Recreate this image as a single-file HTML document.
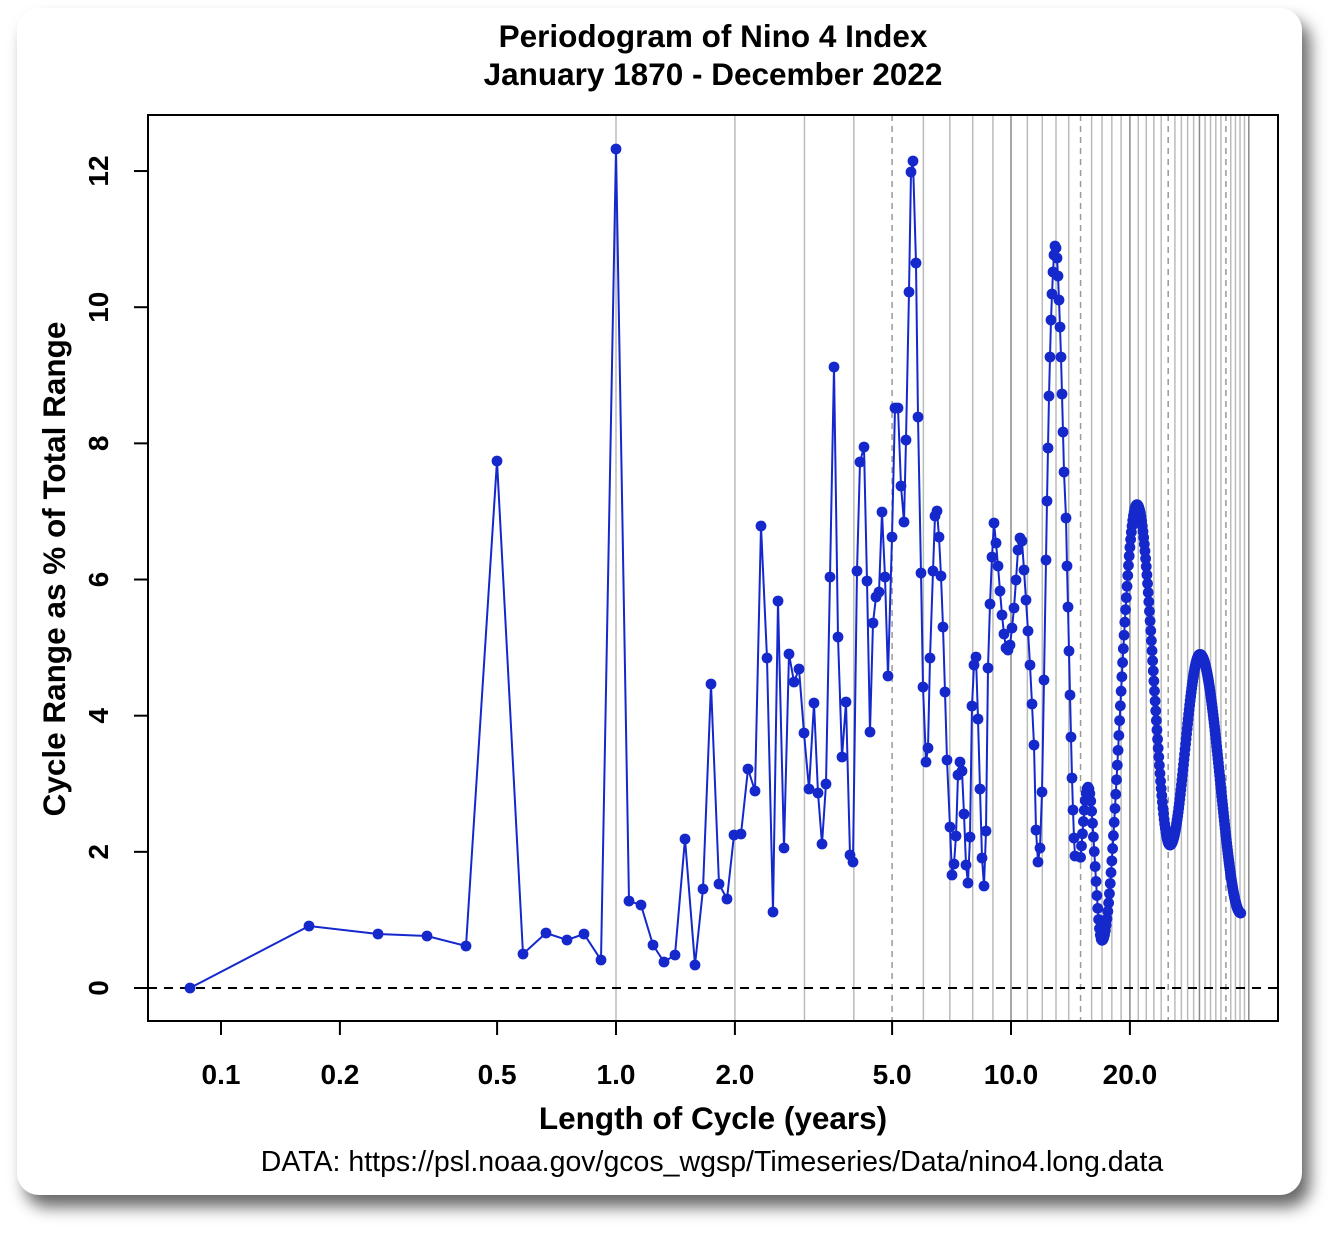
<!DOCTYPE html>
<html><head><meta charset="utf-8"><style>
body{margin:0;background:#fff;width:1339px;height:1242px;overflow:hidden}
.card{position:absolute;left:17px;top:8px;width:1285px;height:1187px;background:#fff;border-radius:22px;box-shadow:8px 12px 16px rgba(0,0,0,0.6)}
svg{position:absolute;left:0;top:0}
text{font-family:"Liberation Sans",Arial,sans-serif}
</style></head><body>
<div class="card"></div>
<svg width="1339" height="1242" id="s">
<g id="grid"></g>
<line x1="148" y1="988" x2="1278" y2="988" stroke="#000" stroke-width="2" stroke-dasharray="9,7"/>
<g id="data"></g>
<rect x="148" y="115" width="1130" height="906" fill="none" stroke="#000" stroke-width="2"/>
<g font-weight="bold" font-size="31.5" text-anchor="middle">
<text x="713" y="47">Periodogram of Nino 4 Index</text>
<text x="713" y="85">January 1870 - December 2022</text>
<text x="713" y="1129">Length of Cycle (years)</text>
<text transform="translate(65,569) rotate(-90)">Cycle Range as % of Total Range</text>
</g>
<text x="712" y="1171" font-size="28.5" text-anchor="middle">DATA: https://psl.noaa.gov/gcos_wgsp/Timeseries/Data/nino4.long.data</text>
<g font-weight="bold" font-size="28" text-anchor="middle" id="ticks"></g>
</svg>
<script>
var NS="http://www.w3.org/2000/svg";
function el(p,t,a,txt){var e=document.createElementNS(NS,t);for(var k in a)e.setAttribute(k,a[k]);if(txt!==undefined)e.textContent=txt;p.appendChild(e);return e;}
function X(v){return 616+395*Math.log10(v);}
function Y(v){return 988-68.08*v;}
var g=document.getElementById('grid');
for(var y=1;y<=40;y++){var x=X(y);var dashed=(y%10==5);var dark=(y%10==0);
el(g,'line',{x1:x,x2:x,y1:115,y2:1021,stroke:dashed?'#999':(dark?'#888':'#bbb'),'stroke-width':1.5,'stroke-dasharray':dashed?'6,5':'none'});}
var tk=document.getElementById('ticks');
[[0.1,'0.1'],[0.2,'0.2'],[0.5,'0.5'],[1,'1.0'],[2,'2.0'],[5,'5.0'],[10,'10.0'],[20,'20.0']].forEach(function(t){var x=X(t[0]);
el(tk,'line',{x1:x,x2:x,y1:1021,y2:1035,stroke:'#000','stroke-width':2});el(tk,'text',{x:x,y:1084},t[1]);});
[0,2,4,6,8,10,12].forEach(function(v){var y=Y(v);el(tk,'line',{x1:134,x2:148,y1:y,y2:y,stroke:'#000','stroke-width':2});
el(tk,'text',{transform:'translate(108,'+y+') rotate(-90)'},v);});
var P=[[190,988],[309,926],[378,934],[427,936],[466,946],[497,461],[523,954],[546,933],[567,940],[584,934],[601,960],[616,149],[629,901],[641,905],[653,945],[664,962],[675,955],[685,839],[695,965],[703,889],[711,684],[719,884],[727,899],[734,835],[741,834],[748,769],[755,791],[761,526],[767,658],[773,912],[778,601],[784,848],[789,654],[794,682],[799,669],[804,733],[809,789],[814,703],[818,793],[822,844],[826,784],[830,577],[834,367],[838,637],[842,757],[846,702],[850,855],[853,862],[857,571],[860,462],[864,447],[867,581],[870,732],[873,623],[876,597],[879,592],[882,512],[885,577],[888,676],[892,537],[895,408],[898,408],[901,486],[904,522],[906,440],[909,292],[911,172],[913,161],[916,263],[918,417],[921,573],[923,687],[926,762],[928,748],[930,658],[933,571],[935,516],[937,511],[939,537],[941,576],[943,627],[945,692],[947,760],[950,827],[952,875],[954,864],[956,836],[958,775],[960,762],[962,771],[964,814],[966,865],[968,883],[970,837],[972,706],[974,665],[976,657],[978,719],[980,789],[982,858],[984,886],[986,831],[988,668],[990,604],[992,557],[994,523],[996,543],[998,566],[1000,591],[1002,615],[1004,634],[1006,648],[1008,650],[1010,645],[1012,628],[1014,608],[1016,580],[1018,550],[1020,538],[1022,541],[1024,570],[1026,600],[1028,631],[1030,665],[1032,704],[1034,745],[1036,830],[1038,862],[1040,848],[1042,792],[1044,680],[1046,560],[1047,501],[1048,448],[1049,396],[1050,357],[1051,320],[1052,294],[1053,272],[1054,255],[1055,246],[1056,248],[1057,258],[1058,276],[1059,300],[1060,327],[1061,357],[1062,394],[1063,432],[1064,472],[1066,518],[1067,566],[1068,607],[1069,651],[1070,695],[1071,737],[1072,778],[1073,810],[1074,838],[1075,856]];
var K=[[1075,1.9],[1077,1.6],[1088,2.95],[1102,0.7],[1137,7.1],[1170,2.1],[1200,4.9],[1241,1.1]];
function f(x){for(var i=0;i<K.length-1;i++){if(x<=K[i+1][0]){var a=K[i],b=K[i+1],t=(x-a[0])/(b[0]-a[0]);t=(1-Math.cos(Math.PI*t))/2;return a[1]+(b[1]-a[1])*t;}}return K[K.length-1][1];}
for(var k=180;;k++){var x=X(k/12);if(x>1241)break;if(x>1076)P.push([x,Y(f(x))]);}
var d=document.getElementById('data');
el(d,'polyline',{points:P.map(function(p){return p.join(',')}).join(' '),fill:'none',stroke:'#1428cc','stroke-width':2});
P.forEach(function(p){el(d,'circle',{cx:p[0],cy:p[1],r:5.4,fill:'#1428cc'});});
</script>
</body></html>
